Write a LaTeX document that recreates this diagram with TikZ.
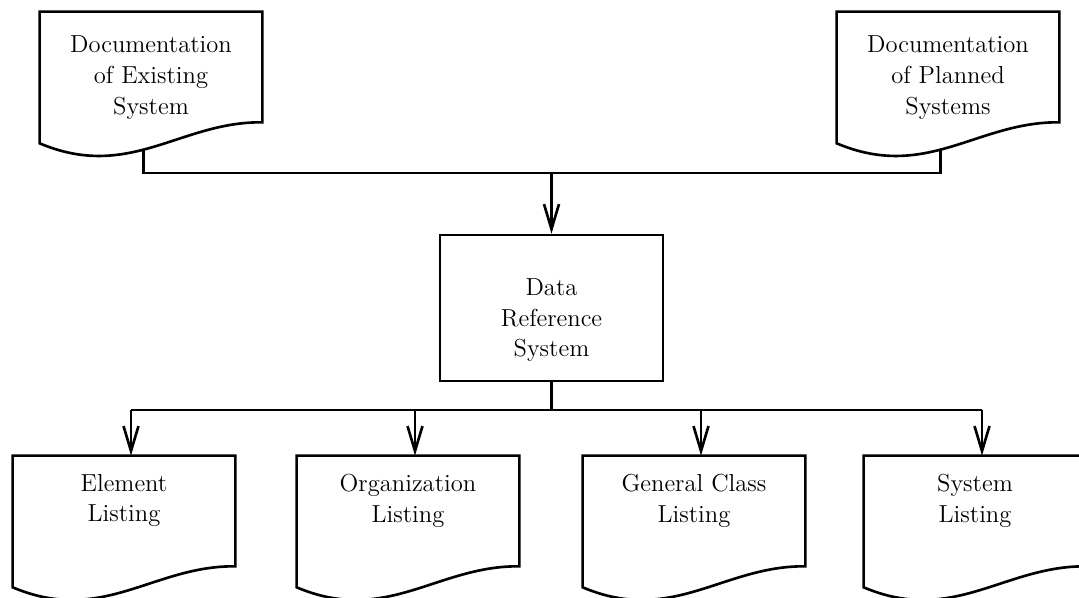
\documentclass[tikz,border=0pt]{standalone}
\usetikzlibrary{arrows.meta}
\begin{document}
\begin{tikzpicture}[x=0.02cm, y=0.02cm, >={Straight Barb[length=5mm, width=3mm]},
    line/.style={line width=1.5pt},
    doc/.style={minimum width=4.44cm, minimum height=2.62cm, inner sep=0pt, align=center, font=\fontsize{14}{17.6}\selectfont},
    listing/.style={doc, text depth=0.94cm}]
        \useasboundingbox (0,0) rectangle (1079,598);

        \node[doc] (exist) at (151,520.5) {Documentation\\of Existing\\System};
        \node[doc] (planned) at (948,520.5) {Documentation\\of Planned\\Systems};
        \node[draw, line, minimum width=4.46cm, minimum height=2.92cm, align=center,
              font=\fontsize{14}{17.6}\selectfont, text height=2.06cm, text depth=0.1cm] (drs) at (551.5,290) {Data\\Reference\\System};
        \node[listing] (elem) at (124,76.5) {Element\\Listing};
        \node[listing] (org) at (408,76.5) {Organization\\Listing};
        \node[listing] (gen) at (694,76.5) {General Class\\Listing};
        \node[listing] (sys) at (975,76.5) {System\\Listing};

        \foreach \d in {exist,planned,elem,org,gen,sys}
            \draw[line] (\d.north west) -- (\d.north east) -- ([yshift=0.42cm]\d.south east)
                .. controls +(-82,1) and +(90,-38) .. (\d.south west) coordinate[pos=0.55] (\d-w) -- cycle;

        \coordinate (upbus) at (551.5,425);
        \coordinate (lowbus) at (551.5,188);

        \draw[line] (exist-w) |- (upbus) -| (planned-w);
        \draw[line, ->] (upbus) -- (drs);
        \draw[line] (drs) -- (lowbus);
        \draw[line] ([xshift=0.14cm]elem.north |- lowbus) -- ([xshift=0.14cm]sys.north |- lowbus);
        \foreach \d in {elem,org,gen,sys}
            \draw[line, ->] ([xshift=0.14cm]\d.north |- lowbus) -- ([xshift=0.14cm]\d.north);
\end{tikzpicture}
\end{document}
